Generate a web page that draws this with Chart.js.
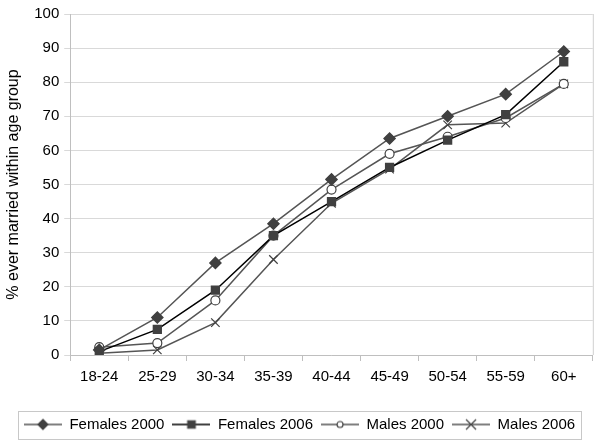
<!DOCTYPE html>
<html>
<head>
<meta charset="utf-8">
<script src="https://cdn.jsdelivr.net/npm/chart.js@4/dist/chart.umd.min.js"></script>
<style>
  html, body { margin: 0; padding: 0; background: #fff; }
  #wrap { width: 600px; height: 444px; }
</style>
</head>
<body>
<div id="wrap"><canvas id="chart" width="600" height="444"></canvas></div>
<script>
const ageGroups = ['18-24', '25-29', '30-34', '35-39', '40-44', '45-49', '50-54', '55-59', '60+'];
const females2000 = [1.5, 11, 27, 38.5, 51.5, 63.5, 70, 76.5, 89];
const females2006 = [1, 7.5, 19, 35, 45, 55, 63, 70.5, 86];
const males2000 = [2.3, 3.5, 16, 35, 48.5, 59, 64, 69.5, 79.5];
const males2006 = [0.5, 1.5, 9.5, 28, 44.5, 54.5, 67.5, 68, 79.5];

// small canvas with a line and a marker, used as the legend symbol
const legendSymbol = (lineColor, style, fill, stroke, r) => {
  const c = document.createElement('canvas');
  c.width = 38;
  c.height = 14;
  const ctx = c.getContext('2d');
  ctx.strokeStyle = lineColor;
  ctx.lineWidth = 1.5;
  ctx.beginPath();
  ctx.moveTo(0, 7);
  ctx.lineTo(38, 7);
  ctx.stroke();
  ctx.fillStyle = fill;
  ctx.strokeStyle = stroke;
  ctx.lineWidth = 1.2;
  ctx.beginPath();
  if (style === 'rectRot') {
    ctx.moveTo(19, 7 - r); ctx.lineTo(19 + r, 7); ctx.lineTo(19, 7 + r); ctx.lineTo(19 - r, 7); ctx.closePath();
    ctx.fill(); ctx.stroke();
  } else if (style === 'rect') {
    ctx.rect(19 - r * 0.75, 7 - r * 0.75, r * 1.5, r * 1.5);
    ctx.fill(); ctx.stroke();
  } else if (style === 'circle') {
    ctx.arc(19, 7, r, 0, Math.PI * 2);
    ctx.fill(); ctx.stroke();
  } else {
    ctx.moveTo(19 - r, 7 - r); ctx.lineTo(19 + r, 7 + r);
    ctx.moveTo(19 + r, 7 - r); ctx.lineTo(19 - r, 7 + r);
    ctx.stroke();
  }
  return c;
};

const legendBox = {
  id: 'legendBox',
  afterDraw(chart) {
    const { ctx, chartArea } = chart;
    // right edge of plot area
    ctx.save();
    ctx.strokeStyle = '#d0d0d0';
    ctx.lineWidth = 1;
    ctx.beginPath();
    ctx.moveTo(chartArea.right + 0.5, chartArea.top);
    ctx.lineTo(chartArea.right + 0.5, chartArea.bottom);
    ctx.stroke();
    const boxes = chart.legend.legendHitBoxes;
    if (boxes && boxes.length) {
      const left = Math.min(...boxes.map(b => b.left));
      const right = Math.max(...boxes.map(b => b.left + b.width));
      const top = Math.min(...boxes.map(b => b.top));
      const bottom = Math.max(...boxes.map(b => b.top + b.height));
      ctx.strokeStyle = '#c8c8c8';
      ctx.strokeRect(Math.round(left - 6) + 0.5, Math.round(top - 6) + 0.5, Math.round(right - left + 12), Math.round(bottom - top + 13));
    }
    ctx.restore();
  }
};

Chart.defaults.font.family = '"Liberation Sans", Arial, sans-serif';
Chart.defaults.font.size = 15;
Chart.defaults.color = '#000';

new Chart(document.getElementById('chart'), {
  type: 'line',
  data: {
    labels: ageGroups,
    datasets: [
      {
        label: 'Females 2000',
        data: females2000,
        borderColor: '#555',
        borderWidth: 1.5,
        pointStyle: 'rectRot',
        pointRadius: 5.5,
        pointBackgroundColor: '#404040',
        pointBorderColor: '#404040',
        legendImg: legendSymbol('#555', 'rectRot', '#404040', '#404040', 5)
      },
      {
        label: 'Females 2006',
        data: females2006,
        borderColor: '#000',
        borderWidth: 1.5,
        pointStyle: 'rect',
        pointRadius: 5.5,
        pointBackgroundColor: '#404040',
        pointBorderColor: '#404040',
        legendImg: legendSymbol('#000', 'rect', '#404040', '#404040', 5)
      },
      {
        label: 'Males 2000',
        data: males2000,
        borderColor: '#555',
        borderWidth: 1.5,
        pointStyle: 'circle',
        pointRadius: 4.5,
        pointBackgroundColor: '#fff',
        pointBorderColor: '#404040',
        pointBorderWidth: 1.2,
        legendImg: legendSymbol('#555', 'circle', '#fff', '#404040', 3)
      },
      {
        label: 'Males 2006',
        data: males2006,
        borderColor: '#555',
        borderWidth: 1.5,
        pointStyle: 'crossRot',
        pointRadius: 6,
        pointBorderColor: '#404040',
        pointBorderWidth: 1.2,
        legendImg: legendSymbol('#555', 'cross', '#fff', '#404040', 5)
      }
    ]
  },
  options: {
    responsive: false,
    animation: false,
    layout: { padding: { left: 4, right: 5, top: 2, bottom: 2 } },
    scales: {
      x: {
        offset: true,
        grid: { display: true, drawOnChartArea: false, offset: true, color: '#bfbfbf', tickLength: 6 },
        border: { color: '#bfbfbf' },
        ticks: { padding: 7, maxRotation: 0 },
        afterFit(scale) { scale.height += 16; } // room between labels and legend
      },
      y: {
        min: 0,
        max: 100,
        ticks: { stepSize: 10, padding: 5 },
        grid: { color: '#d9d9d9', tickLength: 6 },
        border: { color: '#bfbfbf' },
        title: { display: true, text: '% ever married within age group', font: { size: 16 }, padding: { top: 0, bottom: 6 } }
      }
    },
    plugins: {
      legend: {
        position: 'bottom',
        labels: {
          usePointStyle: true,
          pointStyleWidth: 38,
          padding: 8,
          generateLabels(chart) {
            return chart.data.datasets.map((ds, i) => ({
              text: ds.label,
              pointStyle: ds.legendImg,
              datasetIndex: i,
              hidden: false,
              lineWidth: 0,
              fontColor: '#000'
            }));
          }
        }
      },
      tooltip: { enabled: false }
    }
  },
  plugins: [legendBox]
});
</script>
</body>
</html>
